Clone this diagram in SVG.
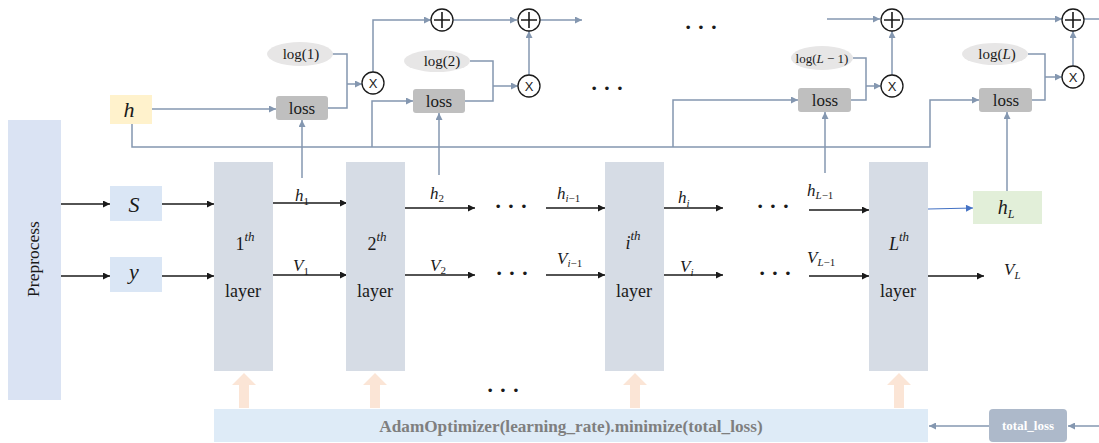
<svg xmlns="http://www.w3.org/2000/svg" width="1099" height="443" viewBox="0 0 1099 443">
<style>
.t{font-family:"Liberation Serif","Times New Roman",serif;fill:#1a1a1a}
.m{font-family:"Liberation Serif","Times New Roman",serif;font-style:italic;fill:#1a1a1a}
.r{font-style:normal}
.lyr{font-size:18px}
.cb{stroke:#8497b0;stroke-width:1.5;fill:none}
.cbk{stroke:#1a1a1a;stroke-width:1.6;fill:none}
.op{fill:#fff;stroke:#1a1a1a;stroke-width:1.3}
.layer{fill:#d6dce5}
.loss{fill:#bfbfbf}
.lg{fill:#e7e6e6}
.up{fill:#fbe5d6}
</style>
<defs>
<marker id="ab" viewBox="0 0 10 10" refX="10" refY="5" markerWidth="8" markerHeight="7" orient="auto" markerUnits="userSpaceOnUse"><path d="M0,0L10,5L0,10z" fill="#8497b0"/></marker>
<marker id="ak" viewBox="0 0 10 10" refX="10" refY="5" markerWidth="9" markerHeight="7" orient="auto" markerUnits="userSpaceOnUse"><path d="M0,0L10,5L0,10z" fill="#1a1a1a"/></marker>
<marker id="abl" viewBox="0 0 10 10" refX="10" refY="5" markerWidth="9" markerHeight="7" orient="auto" markerUnits="userSpaceOnUse"><path d="M0,0L10,5L0,10z" fill="#4472c4"/></marker>
</defs>

<g id="connectors">
<path class="cbk" d="M61,204H110" marker-end="url(#ak)"/>
<path class="cbk" d="M61,276H110" marker-end="url(#ak)"/>
<path class="cbk" d="M162,204H214" marker-end="url(#ak)"/>
<path class="cbk" d="M162,276H214" marker-end="url(#ak)"/>
<path class="cbk" d="M273,203H347" marker-end="url(#ak)"/>
<path class="cbk" d="M273,275H347" marker-end="url(#ak)"/>
<path class="cbk" d="M405,208H475" marker-end="url(#ak)"/>
<path class="cbk" d="M405,275H475" marker-end="url(#ak)"/>
<path class="cbk" d="M546,208H605" marker-end="url(#ak)"/>
<path class="cbk" d="M546,275H605" marker-end="url(#ak)"/>
<path class="cbk" d="M664,208H723" marker-end="url(#ak)"/>
<path class="cbk" d="M664,275H723" marker-end="url(#ak)"/>
<path class="cbk" d="M809,210H869" marker-end="url(#ak)" stroke="#404040"/>
<path class="cbk" d="M809,276H869" marker-end="url(#ak)" stroke="#404040"/>
<path class="cbk" d="M926,276H984" marker-end="url(#ak)" stroke="#404040"/>
<path d="M928,209L973,208" stroke="#4472c4" stroke-width="1.2" fill="none" marker-end="url(#abl)"/>
<path class="cb" d="M152,109H276" marker-end="url(#ab)"/>
<path class="cb" d="M132,124V147H930V100H979" marker-end="url(#ab)"/>
<path class="cb" d="M372,147V101H413" marker-end="url(#ab)"/>
<path class="cb" d="M673,147V100H798" marker-end="url(#ab)"/>
<path class="cb" d="M302,178V120" marker-end="url(#ab)"/>
<path class="cb" d="M439,175V113" marker-end="url(#ab)"/>
<path class="cb" d="M825,173V112" marker-end="url(#ab)"/>
<path class="cb" d="M1007,191V112" marker-end="url(#ab)"/>
<path class="cb" d="M332,54H347V108H328"/>
<path class="cb" d="M347,84H362" marker-end="url(#ab)"/>
<path class="cb" d="M470,61H493V101H465"/>
<path class="cb" d="M493,86H518" marker-end="url(#ab)"/>
<path class="cb" d="M853,58H866V100H851"/>
<path class="cb" d="M866,86H881" marker-end="url(#ab)"/>
<path class="cb" d="M1028,54H1045V100H1032"/>
<path class="cb" d="M1045,77H1062" marker-end="url(#ab)"/>
<path class="cb" d="M373,72V20H431" marker-end="url(#ab)"/>
<path class="cb" d="M529,75V31" marker-end="url(#ab)"/>
<path class="cb" d="M892,75V31" marker-end="url(#ab)"/>
<path class="cb" d="M1073,66V31" marker-end="url(#ab)"/>
<path class="cb" d="M453,20H517" marker-end="url(#ab)"/>
<path class="cb" d="M540,20H582" marker-end="url(#ab)"/>
<path class="cb" d="M827,19H880" marker-end="url(#ab)"/>
<path class="cb" d="M903,19H1062" marker-end="url(#ab)"/>
<path class="cb" d="M1084,19H1099"/>
<path class="cb" d="M1099,426H1068" marker-end="url(#ab)"/>
<path class="cb" d="M989,426H929" marker-end="url(#ab)"/>
</g>

<g id="preprocess">
<rect x="8" y="120" width="53" height="280" fill="#dae3f3"/>
<text class="t" x="39" y="259" font-size="17.5" text-anchor="middle" transform="rotate(-90 39 259)">Preprocess</text>
</g>
<g id="S"><rect x="110" y="186" width="52" height="35" fill="#dae6f5"/><text class="m" x="134" y="212" font-size="22" text-anchor="middle">S</text></g>
<g id="y"><rect x="110" y="257" width="52" height="35" fill="#dae6f5"/><text class="m" x="134" y="279" font-size="22" text-anchor="middle">y</text></g>
<g id="h"><rect x="110" y="95" width="42" height="29" fill="#fff2cc"/><text class="m" x="129" y="117" font-size="22" text-anchor="middle">h</text></g>

<g id="layer1"><rect class="layer" x="214" y="162" width="59" height="209"/>
<text class="t lyr" x="245" y="250" text-anchor="middle">1<tspan class="m" font-size="13" dy="-9">th</tspan></text>
<text class="t lyr" x="243" y="297" text-anchor="middle">layer</text></g>
<g id="layer2"><rect class="layer" x="346" y="162" width="59" height="209"/>
<text class="t lyr" x="377" y="250" text-anchor="middle">2<tspan class="m" font-size="13" dy="-9">th</tspan></text>
<text class="t lyr" x="375" y="297" text-anchor="middle">layer</text></g>
<g id="layeri"><rect class="layer" x="605" y="162" width="59" height="209"/>
<text class="m lyr" x="633" y="249" text-anchor="middle">i<tspan font-size="13" dy="-9">th</tspan></text>
<text class="t lyr" x="634" y="297" text-anchor="middle">layer</text></g>
<g id="layerL"><rect class="layer" x="869" y="162" width="59" height="209"/>
<text class="m lyr" x="899" y="250" text-anchor="middle">L<tspan font-size="13" dy="-9">th</tspan></text>
<text class="t lyr" x="898" y="297" text-anchor="middle">layer</text></g>

<g id="hL"><rect x="973" y="191" width="69" height="33" fill="#e2efd9"/><text class="m" x="1006" y="214" font-size="20" text-anchor="middle">h<tspan font-size="12" dy="4">L</tspan></text></g>

<g id="labels">
<text class="m" x="295" y="201" font-size="17">h<tspan font-size="11" dy="4" class="r">1</tspan></text>
<text class="m" x="293" y="271" font-size="17">V<tspan font-size="11" dy="4" class="r">1</tspan></text>
<text class="m" x="430" y="199" font-size="17">h<tspan font-size="11" dy="3" class="r">2</tspan></text>
<text class="m" x="430" y="271" font-size="17">V<tspan font-size="11" dy="3" class="r">2</tspan></text>
<text class="m" x="557" y="199" font-size="17">h<tspan font-size="11" dy="3">i<tspan class="r">−1</tspan></tspan></text>
<text class="m" x="557" y="264" font-size="17">V<tspan font-size="11" dy="3">i<tspan class="r">−1</tspan></tspan></text>
<text class="m" x="678" y="203" font-size="17">h<tspan font-size="11" dy="4">i</tspan></text>
<text class="m" x="680" y="272" font-size="17">V<tspan font-size="11" dy="4">i</tspan></text>
<text class="m" x="807" y="196" font-size="17">h<tspan font-size="11" dy="3">L<tspan class="r">−1</tspan></tspan></text>
<text class="m" x="807" y="263" font-size="17">V<tspan font-size="11" dy="3">L<tspan class="r">−1</tspan></tspan></text>
<text class="m" x="1004" y="275" font-size="17">V<tspan font-size="11" dy="4">L</tspan></text>
</g>

<g id="dots" class="t" font-size="22" font-weight="bold">
<text x="511" y="213" text-anchor="middle">· · ·</text>
<text x="512" y="280" text-anchor="middle">· · ·</text>
<text x="773" y="213" text-anchor="middle">· · ·</text>
<text x="775" y="280" text-anchor="middle">· · ·</text>
<text x="701" y="34" text-anchor="middle">· · ·</text>
<text x="607" y="95" text-anchor="middle">· · ·</text>
<text x="503" y="397" text-anchor="middle">· · ·</text>
</g>

<g id="loss1"><rect class="loss" x="276" y="96" width="52" height="24" rx="3"/><text class="t" x="302" y="114" font-size="17" text-anchor="middle">loss</text></g>
<g id="loss2"><rect class="loss" x="413" y="89" width="52" height="24" rx="3"/><text class="t" x="439" y="107" font-size="17" text-anchor="middle">loss</text></g>
<g id="lossLm1"><rect class="loss" x="798" y="88" width="53" height="24" rx="3"/><text class="t" x="825" y="106" font-size="17" text-anchor="middle">loss</text></g>
<g id="lossL"><rect class="loss" x="979" y="88" width="53" height="24" rx="3"/><text class="t" x="1006" y="106" font-size="17" text-anchor="middle">loss</text></g>

<g id="log1"><ellipse class="lg" cx="300" cy="54" rx="33" ry="12"/><text class="t" x="301" y="59" font-size="15" text-anchor="middle">log(1)</text></g>
<g id="log2"><ellipse class="lg" cx="437" cy="61" rx="33" ry="11"/><text class="t" x="442" y="66" font-size="15" text-anchor="middle">log(2)</text></g>
<g id="logLm1"><ellipse class="lg" cx="822" cy="58" rx="31" ry="12"/><text class="t" x="822" y="63" font-size="13" text-anchor="middle">log(<tspan class="m">L</tspan> − 1)</text></g>
<g id="logL"><ellipse class="lg" cx="995" cy="54" rx="33" ry="11"/><text class="t" x="997" y="59" font-size="15" text-anchor="middle">log(<tspan class="m">L</tspan>)</text></g>

<g id="mul1"><circle class="op" cx="373" cy="83" r="11"/><text x="373" y="88" font-family="Liberation Sans,Arial,sans-serif" font-size="13" text-anchor="middle" fill="#1a1a1a">X</text></g>
<g id="mul2"><circle class="op" cx="529" cy="86" r="11"/><text x="529" y="91" font-family="Liberation Sans,Arial,sans-serif" font-size="13" text-anchor="middle" fill="#1a1a1a">X</text></g>
<g id="mulLm1"><circle class="op" cx="892" cy="86" r="11"/><text x="892" y="91" font-family="Liberation Sans,Arial,sans-serif" font-size="13" text-anchor="middle" fill="#1a1a1a">X</text></g>
<g id="mulL"><circle class="op" cx="1073" cy="77" r="11"/><text x="1073" y="82" font-family="Liberation Sans,Arial,sans-serif" font-size="13" text-anchor="middle" fill="#1a1a1a">X</text></g>

<g id="add1"><circle class="op" cx="442" cy="20" r="11"/><path d="M434,20H450M442,12V28" stroke="#1a1a1a" stroke-width="1.6"/></g>
<g id="add2"><circle class="op" cx="529" cy="20" r="11"/><path d="M521,20H537M529,12V28" stroke="#1a1a1a" stroke-width="1.6"/></g>
<g id="addLm1"><circle class="op" cx="892" cy="20" r="11"/><path d="M884,20H900M892,12V28" stroke="#1a1a1a" stroke-width="1.6"/></g>
<g id="addL"><circle class="op" cx="1073" cy="20" r="11"/><path d="M1065,20H1081M1073,12V28" stroke="#1a1a1a" stroke-width="1.6"/></g>

<g id="updates">
<path class="up" d="M239,408V385H232L244,373L256,385H249V408z"/>
<path class="up" d="M370,408V385H363L375,373L387,385H380V408z"/>
<path class="up" d="M630,408V385H623L635,373L647,385H640V408z"/>
<path class="up" d="M894,408V385H887L899,373L911,385H904V408z"/>
</g>

<g id="adam"><rect x="214" y="409" width="714" height="33" fill="#deebf7"/>
<text class="t" x="571" y="432" font-size="17.2" font-weight="bold" text-anchor="middle" style="fill:#7f7f7f">AdamOptimizer(learning_rate).minimize(total_loss)</text></g>
<g id="total_loss"><rect x="989" y="409" width="78" height="33" rx="4" fill="#adb9ca"/>
<text class="t" x="1028" y="430" font-size="13" font-weight="bold" text-anchor="middle" style="fill:#ffffff">total_loss</text></g>
</svg>
